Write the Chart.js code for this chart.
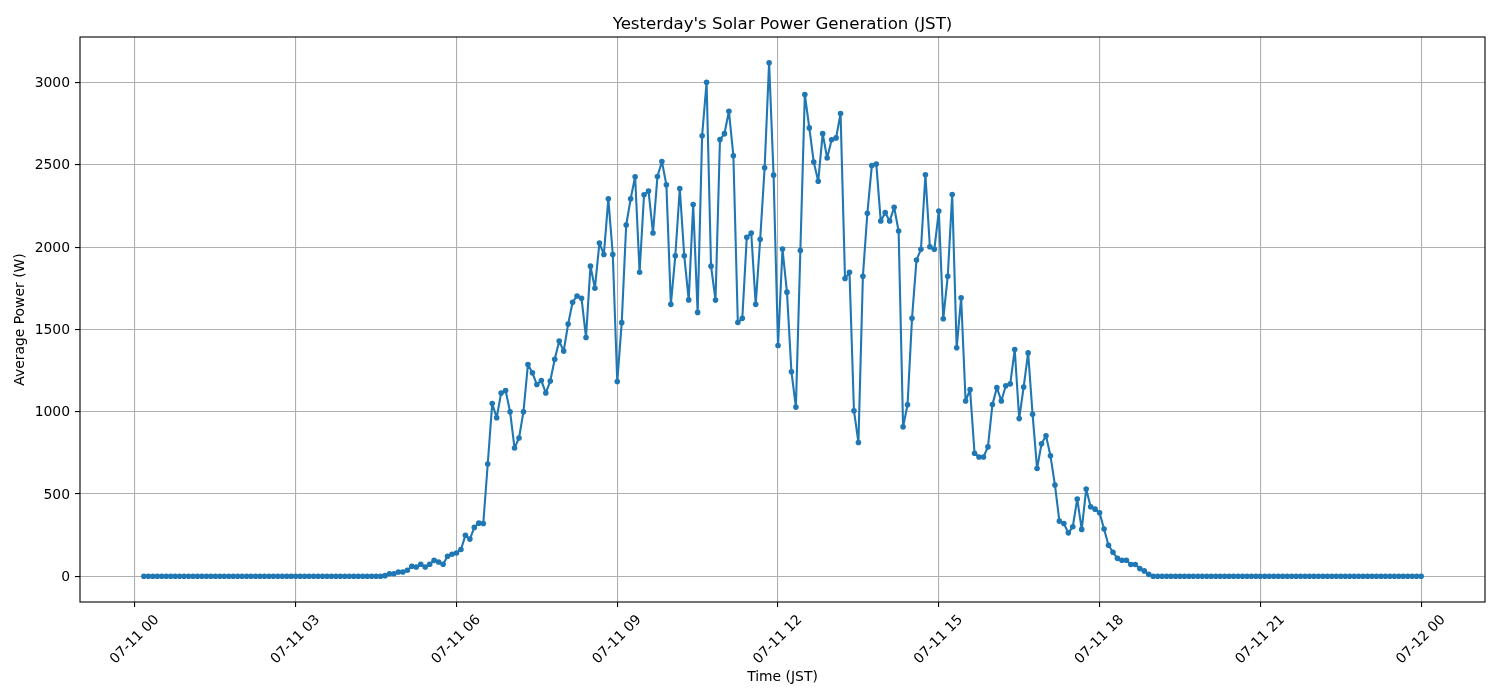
<!DOCTYPE html>
<html><head><meta charset="utf-8">
<script src="https://cdn.jsdelivr.net/npm/chart.js@4.4.0/dist/chart.umd.min.js"></script>
<style>html,body{margin:0;padding:0;background:#fff}canvas{display:block}</style>
</head><body>
<canvas id="c" width="1500" height="700"></canvas>
<script>
// Sample times: minutes after 07-11 00:00 (first sample 00:10, every 5 minutes, last 07-12 00:00)
const startMinute = 10;
const stepMinutes = 5;

// Average power (W) per sample
const powerW = [
  0,0,0,0,0,0,0,0,0,0,
  0,0,0,0,0,0,0,0,0,0,
  0,0,0,0,0,0,0,0,0,0,
  0,0,0,0,0,0,0,0,0,0,
  0,0,0,0,0,0,0,0,0,0,
  0,0,0,0,
  4,16,16,26,26,37,61,57,73,57,
  73,97,87,73,122,134,142,163,249,226,
  297,323,321,682,1050,963,1114,1128,1000,779,
  840,1000,1287,1236,1165,1189,1114,1186,1319,1429,
  1368,1532,1665,1703,1689,1451,1884,1750,2024,1955,
  2293,1955,1183,1541,2134,2293,2427,1847,2318,2341,
  2085,2429,2520,2378,1652,1947,2356,1947,1679,2258,
  1603,2676,3001,1884,1678,2653,2689,2825,2555,1542,
  1567,2059,2085,1652,2047,2482,3120,2437,1402,1988,
  1726,1243,1028,1979,2927,2724,2516,2400,2689,2541,
  2652,2663,2811,1809,1847,1006,813,1822,2205,2495,
  2505,2158,2209,2158,2242,2097,908,1042,1567,1921,
  1986,2439,2002,1986,2219,1565,1823,2319,1388,1692,
  1065,1134,748,725,725,786,1043,1146,1065,1158,
  1169,1378,958,1150,1357,984,655,805,854,732,
  555,335,321,264,301,470,285,530,423,408,
  386,287,189,146,109,98,98,72,72,47,
  33,12,
  0,0,0,0,0,0,0,0,0,0,
  0,0,0,0,0,0,0,0,0,0,
  0,0,0,0,0,0,0,0,0,0,
  0,0,0,0,0,0,0,0,0,0,
  0,0,0,0,0,0,0,0,0,0,
  0,0,0,0,0,0,0,0,0,0,
  0
];

const xTickMinutes = [0, 180, 360, 540, 720, 900, 1080, 1260, 1440];
const xTickLabels = ['07-11 00','07-11 03','07-11 06','07-11 09','07-11 12','07-11 15','07-11 18','07-11 21','07-12 00'];
const yTickValues = [0, 500, 1000, 1500, 2000, 2500, 3000];

const titleText = "Yesterday's Solar Power Generation (JST)";
const xTitle = 'Time (JST)';
const yTitle = 'Average Power (W)';

const points = powerW.map((v, i) => ({x: startMinute + i * stepMinutes, y: v}));
const xFirst = points[0].x, xLast = points[points.length - 1].x;
const xPad = (xLast - xFirst) * 0.05;
const yMaxV = Math.max(...powerW), yMinV = Math.min(...powerW);
const yPad = (yMaxV - yMinV) * 0.05;

const FONT = 'DejaVu Sans';
const frame = {
  id: 'frame',
  afterDatasetsDraw(chart) {
    const {ctx, chartArea: a} = chart;
    ctx.save();
    ctx.strokeStyle = '#000';
    ctx.lineWidth = 1.1;
    ctx.strokeRect(a.left, a.top, a.right - a.left, a.bottom - a.top);
    ctx.restore();
  }
};

new Chart(document.getElementById('c'), {
  type: 'line',
  data: {
    datasets: [{
      data: points,
      borderColor: '#1f77b4',
      backgroundColor: '#1f77b4',
      borderWidth: 2.1,
      borderJoinStyle: 'round',
      borderCapStyle: 'round',
      pointRadius: 2.8,
      pointBorderWidth: 0,
      pointBackgroundColor: '#1f77b4',
      tension: 0,
      fill: false
    }]
  },
  options: {
    responsive: false,
    devicePixelRatio: 1,
    animation: false,
    layout: {padding: {left: 0, right: 15, top: 0, bottom: 0}},
    plugins: {
      legend: {display: false},
      tooltip: {enabled: false},
      title: {
        display: true,
        text: titleText,
        fullSize: false,
        color: '#000',
        font: {family: FONT, size: 16.67, weight: 'normal', lineHeight: 1.2},
        padding: {top: 15, bottom: 2}
      }
    },
    scales: {
      x: {
        type: 'linear',
        min: xFirst - xPad,
        max: xLast + xPad,
        afterBuildTicks: (s) => { s.ticks = xTickMinutes.map(v => ({value: v})); },
        afterFit: (s) => { s.height = 98; s.paddingLeft = 0; s.paddingRight = 0; },
        grid: {color: '#b0b0b0', lineWidth: 1.1, tickColor: '#000', tickWidth: 1.1, tickLength: 5},
        border: {display: false},
        ticks: {
          autoSkip: false,
          maxRotation: 45,
          minRotation: 45,
          padding: 4.7,
          labelOffset: 22,
          color: '#000',
          font: {family: FONT, size: 13.9},
          callback: (v) => { const i = xTickMinutes.indexOf(v); return i >= 0 ? xTickLabels[i] : ''; }
        },
        title: {
          display: true, text: xTitle, color: '#000',
          font: {family: FONT, size: 13.9, lineHeight: 1.2},
          padding: {top: 0, bottom: 14}
        }
      },
      y: {
        type: 'linear',
        min: yMinV - yPad,
        max: yMaxV + yPad,
        afterBuildTicks: (s) => { s.ticks = yTickValues.map(v => ({value: v})); },
        afterFit: (s) => { s.width = 80; s.paddingTop = 0; s.paddingBottom = 0; },
        grid: {color: '#b0b0b0', lineWidth: 1.1, tickColor: '#000', tickWidth: 1.1, tickLength: 5},
        border: {display: false},
        ticks: {
          padding: 5,
          labelOffset: 1,
          color: '#000',
          font: {family: FONT, size: 13.9},
          callback: (v) => String(v)
        },
        title: {
          display: true, text: yTitle, color: '#000',
          font: {family: FONT, size: 13.9, lineHeight: 1.2},
          padding: {top: 11.7, bottom: 0}
        }
      }
    }
  },
  plugins: [frame]
});
</script>
</body></html>
